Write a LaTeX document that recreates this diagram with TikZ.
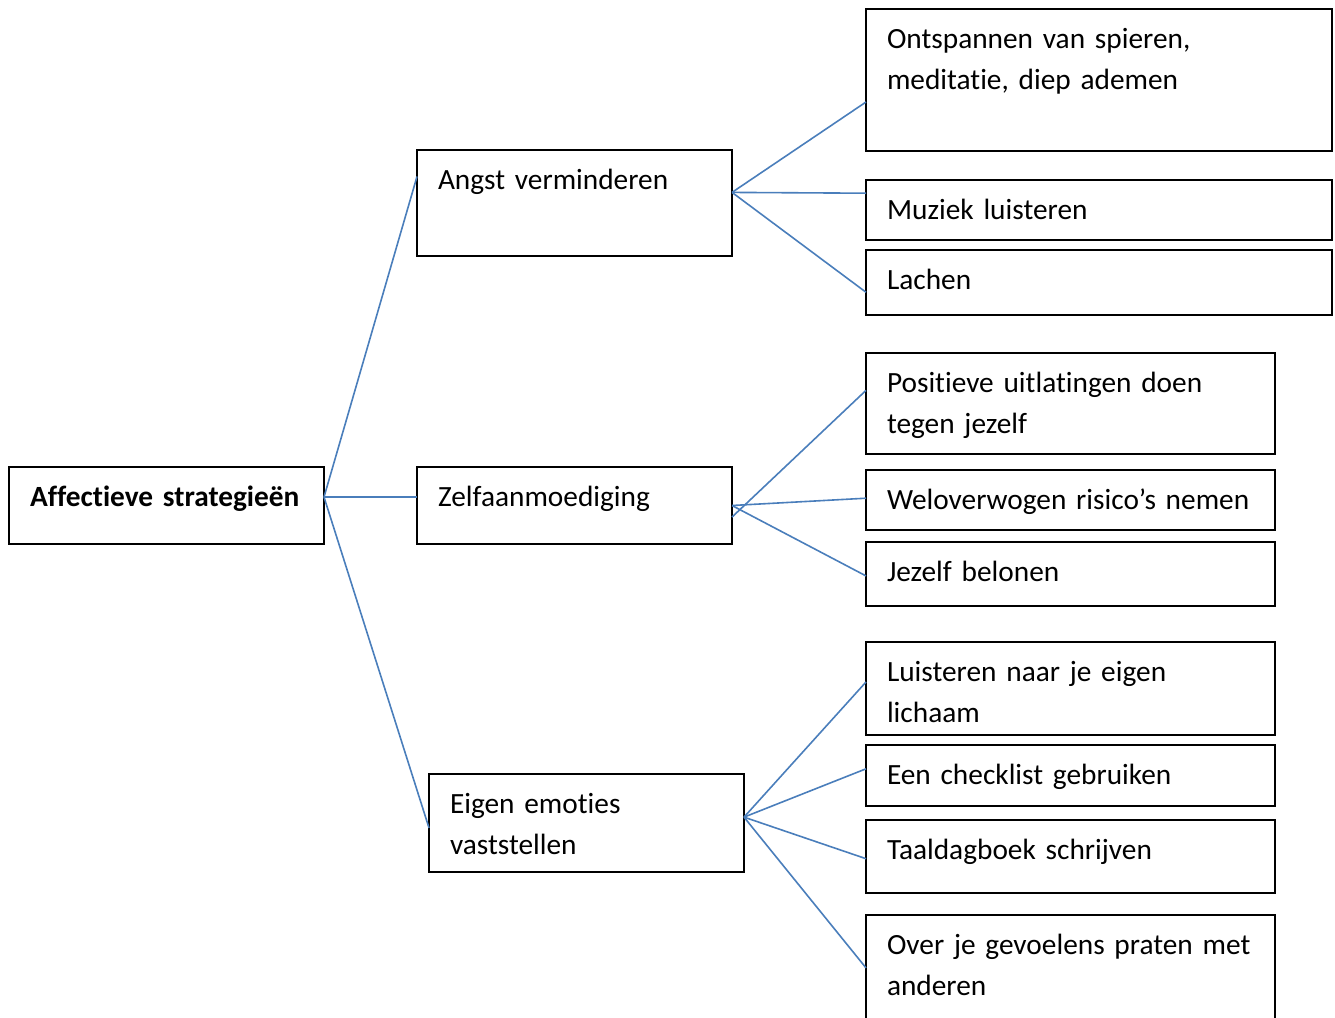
\documentclass[tikz,border=0pt]{standalone}
\usepackage{fontspec}
\setmainfont[Ligatures=NoCommon, RawFeature={-liga;-clig;-dlig;-calt}]{Carlito}
\usetikzlibrary{calc}
\definecolor{linkblue}{HTML}{4A7EBB}
\newcommand\boxfont{\fontsize{11pt}{15.4pt}\selectfont\fontdimen2\font=1.6pt\relax}
\tikzset{
  box/.style={draw, line width=0.75pt, anchor=north west, outer sep=0pt,
    inner xsep=7.875pt, inner ysep=0pt, align=left, text height=14.625pt,
    font=\boxfont},
  wide/.style={text width=159pt},
  mid/.style={text width=137.625pt},
  narrow/.style={text width=102.375pt},
  link/.style={draw=linkblue, line width=0.6pt}
}
\begin{document}
\begin{tikzpicture}
    [x=0.375pt, y=-0.375pt]

    \clip (0,0) rectangle (1335,1017);
    \useasboundingbox (0,0) rectangle (1335,1017);

    % root:
    \node (root) at (9,467) [box,narrow,text depth=14.25pt] {\bfseries\fontdimen2\font=1.6pt Affectieve strategieën};

    % middle column:
    \node (angst) at (417,150) [box,narrow,text depth=25.125pt] {Angst verminderen};
    \node (zelf) at (417,467) [box,narrow,text depth=14.25pt] {Zelfaanmoediging};
    \node (eigen) at (429,774) [box,narrow,text depth=22.125pt] {Eigen emoties\\vaststellen};

    % right column, angst:
    \node (ontsp) at (866,9) [box,wide,text depth=38.625pt] {Ontspannen van spieren,\\meditatie, diep ademen};
    \node (muziek) at (866,180) [box,wide,text depth=7.875pt] {Muziek luisteren};
    \node (lachen) at (866,250) [box,wide,text depth=9.75pt] {Lachen};

    % right column, zelfaanmoediging:
    \node (positief) at (866,353) [box,mid,text depth=23.25pt] {Positieve uitlatingen doen\\tegen jezelf};
    \node (risico) at (866,470) [box,mid,text depth=7.875pt] {Weloverwogen risico’s nemen};
    \node (belonen) at (866,542) [box,mid,text depth=9.375pt] {Jezelf belonen};

    % right column, emoties:
    \node (lichaam) at (866,642) [box,mid,text depth=20.25pt] {Luisteren naar je eigen\\lichaam};
    \node (checklist) at (866,745) [box,mid,text depth=8.25pt] {Een checklist gebruiken};
    \node (dagboek) at (866,820) [box,mid,text depth=12.75pt] {Taaldagboek schrijven};
    \node (praten) at (866,915) [box,mid,text depth=28.5pt] {Over je gevoelens praten met\\anderen};

    % connect nodes:

    \draw [link] ($(root.north east)!.39!(root.south east)$) -- ($(angst.north west)!.25!(angst.south west)$);
    \draw [link] ($(root.north east)!.39!(root.south east)$) -- ($(zelf.north west)!.39!(zelf.south west)$);
    \draw [link] ($(root.north east)!.39!(root.south east)$) -- ($(eigen.north west)!.55!(eigen.south west)$);

    \draw [link] ($(angst.north east)!.4!(angst.south east)$) -- ($(ontsp.north west)!.655!(ontsp.south west)$);
    \draw [link] ($(angst.north east)!.4!(angst.south east)$) -- ($(muziek.north west)!.22!(muziek.south west)$);
    \draw [link] ($(angst.north east)!.4!(angst.south east)$) -- ($(lachen.north west)!.65!(lachen.south west)$);

    \draw [link] ($(zelf.north east)!.65!(zelf.south east)$) -- ($(positief.north west)!.37!(positief.south west)$);
    \draw [link] (zelf.east) -- ($(risico.north west)!.47!(risico.south west)$);
    \draw [link] (zelf.east) -- ($(belonen.north west)!.53!(belonen.south west)$);

    \draw [link] ($(eigen.north east)!.44!(eigen.south east)$) -- ($(lichaam.north west)!.43!(lichaam.south west)$);
    \draw [link] ($(eigen.north east)!.44!(eigen.south east)$) -- ($(checklist.north west)!.39!(checklist.south west)$);
    \draw [link] ($(eigen.north east)!.44!(eigen.south east)$) -- ($(dagboek.north west)!.53!(dagboek.south west)$);
    \draw [link] ($(eigen.north east)!.44!(eigen.south east)$) -- ($(praten.north west)!.46!(praten.south west)$);

  \end{tikzpicture}
\end{document}
